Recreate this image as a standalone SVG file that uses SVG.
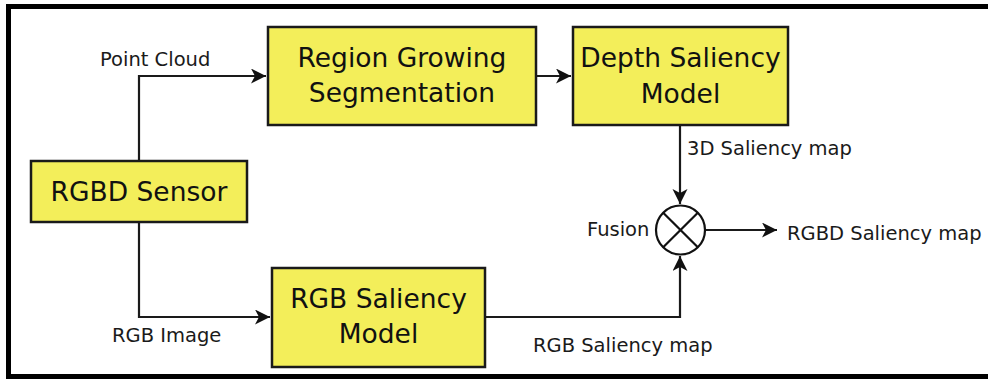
<svg xmlns="http://www.w3.org/2000/svg" width="988" height="379" viewBox="0 0 988 379">
  <style>
    .box { fill: #f3ee5a; stroke: #1a1a1a; stroke-width: 2.5; }
    .btxt { font-family: "DejaVu Sans", sans-serif; font-size: 26.5px; fill: #111; text-anchor: middle; }
    .lbl { font-family: "DejaVu Sans", sans-serif; font-size: 19.5px; fill: #1a1a1a; }
    .wire { fill: none; stroke: #1a1a1a; stroke-width: 2.2; }
  </style>
  <defs>
    <marker id="arrow" markerUnits="userSpaceOnUse" markerWidth="18" markerHeight="18" refX="15" refY="7.5" orient="auto">
      <path d="M0,0 L15,7.5 L0,15 L4,7.5 Z" fill="#111"/>
    </marker>
  </defs>

  <rect width="988" height="379" fill="#ffffff"/>

  <!-- frame: open on the right side -->
  <path d="M988,6.5 H8.5 V376.5 H988" fill="none" stroke="#000" stroke-width="5"/>

  <g id="connectors">
    <path class="wire" d="M139,161 V76 H266" marker-end="url(#arrow)"/>
    <path class="wire" d="M536,76 H571" marker-end="url(#arrow)"/>
    <path class="wire" d="M139,222 V317 H270" marker-end="url(#arrow)"/>
    <path class="wire" d="M680,125 V204" marker-end="url(#arrow)"/>
    <path class="wire" d="M485,317 H680 V256" marker-end="url(#arrow)"/>
    <path class="wire" d="M705,230 H777" marker-end="url(#arrow)"/>
  </g>

  <g id="labels">
    <text class="lbl" x="100" y="66">Point Cloud</text>
    <text class="lbl" x="112" y="342">RGB Image</text>
    <text class="lbl" x="687" y="155">3D Saliency map</text>
    <text class="lbl" x="587" y="236">Fusion</text>
    <text class="lbl" x="787" y="240">RGBD Saliency map</text>
    <text class="lbl" x="533" y="352">RGB Saliency map</text>
  </g>

  <g id="rgbd-sensor">
    <rect class="box" x="31" y="161" width="216" height="61"/>
    <text class="btxt" x="139" y="201">RGBD Sensor</text>
  </g>

  <g id="region-growing">
    <rect class="box" x="268" y="27" width="268" height="98"/>
    <text class="btxt" x="402" y="67">Region Growing</text>
    <text class="btxt" x="402" y="102">Segmentation</text>
  </g>

  <g id="depth-saliency">
    <rect class="box" x="573" y="27" width="215" height="98"/>
    <text class="btxt" x="680.5" y="67">Depth Saliency</text>
    <text class="btxt" x="680.5" y="103">Model</text>
  </g>

  <g id="rgb-saliency">
    <rect class="box" x="272" y="268" width="213" height="99"/>
    <text class="btxt" x="378.5" y="308">RGB Saliency</text>
    <text class="btxt" x="378.5" y="343">Model</text>
  </g>

  <g id="fusion">
    <circle cx="680.5" cy="230" r="24.5" fill="#fff" stroke="#111" stroke-width="2.2"/>
    <path d="M663.2,212.7 L697.8,247.3 M697.8,212.7 L663.2,247.3" stroke="#111" stroke-width="2.2"/>
  </g>
</svg>
